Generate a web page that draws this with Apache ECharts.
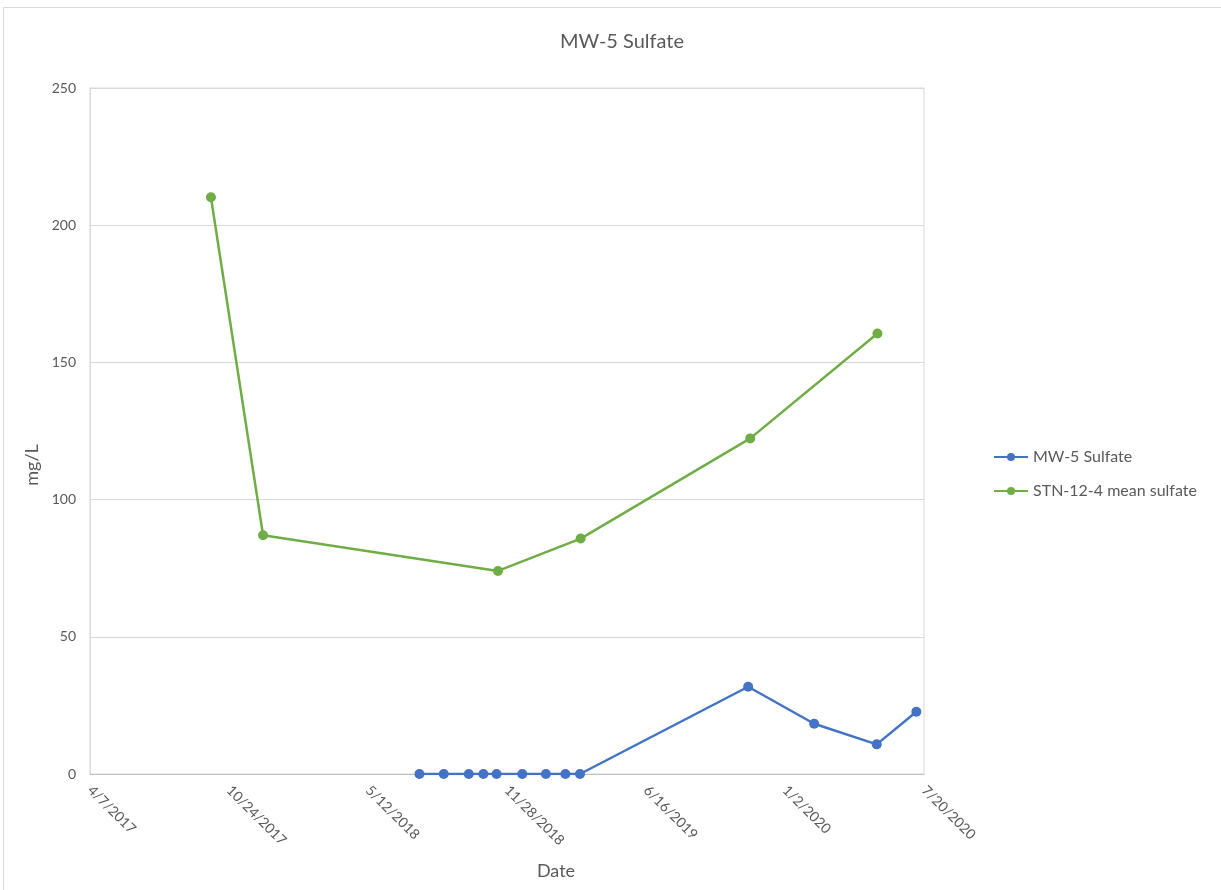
<!DOCTYPE html>
<html>
<head>
<meta charset="utf-8">
<title>MW-5 Sulfate</title>
<script src="https://cdn.jsdelivr.net/npm/echarts@6/dist/echarts.min.js"></script>
<style>
  html, body { margin: 0; padding: 0; background: #fff; }
  #chart { width: 1221px; height: 890px; }
</style>
</head>
<body>
<div id="chart"></div>
<script>
// x axis starts at this date, ticks every 200 days
const startDate = "2017-04-07";
const dayStep = 200;
const dayCount = 1200;

const mwDates = [
  "2018-07-25", "2018-08-29", "2018-10-04", "2018-10-25", "2018-11-13",
  "2018-12-20", "2019-01-23", "2019-02-20", "2019-03-13",
  "2019-11-10", "2020-02-13", "2020-05-13", "2020-07-09"
];
const mwValues = [0, 0, 0, 0, 0, 0, 0, 0, 0, 31.8, 18.3, 10.8, 22.7];

const stnDates = [
  "2017-09-28", "2017-12-12", "2018-11-15", "2019-03-14", "2019-11-13", "2020-05-14"
];
const stnValues = [210.2, 87, 74, 85.8, 122.3, 160.5];

const yTicks = [0, 50, 100, 150, 200, 250];

const DAY = 24 * 3600 * 1000;
const t0 = Date.parse(startDate + "T00:00:00Z");

function toDays(s) {
  return Math.round((Date.parse(s + "T00:00:00Z") - t0) / DAY);
}

function dayLabel(d) {
  const dt = new Date(t0 + d * DAY);
  return (dt.getUTCMonth() + 1) + "/" + dt.getUTCDate() + "/" + dt.getUTCFullYear();
}

function pairs(dates, values) {
  return dates.map((d, i) => [toDays(d), values[i]]);
}

const textColor = "#595959";
const fontFamily = "Lato, 'Noto Sans', sans-serif";

const chart = echarts.init(document.getElementById("chart"));
chart.setOption({
  animation: false,
  textStyle: { fontFamily: fontFamily },
  title: {
    text: "MW-5 Sulfate",
    left: 617,
    textAlign: "center",
    top: 27,
    textStyle: { color: textColor, fontSize: 20, fontWeight: "normal", fontFamily: fontFamily }
  },
  legend: {
    orient: "vertical",
    left: 988,
    top: 444,
    itemWidth: 34,
    itemHeight: 10,
    itemGap: 18,
    textStyle: { color: textColor, fontSize: 16, fontFamily: fontFamily },
    data: ["MW-5 Sulfate", "STN-12-4 mean sulfate"]
  },
  grid: {
    left: 90,
    right: 297,
    top: 88,
    bottom: 116,
    show: true,
    borderColor: "#d9d9d9",
    borderWidth: 1
  },
  graphic: [
    {
      type: "rect",
      shape: { x: 3.5, y: 7.5, width: 1400, height: 1000 },
      style: { fill: null, stroke: "#d9d9d9", lineWidth: 1 },
      silent: true
    }
  ],
  xAxis: {
    type: "value",
    min: 0,
    max: dayCount,
    interval: dayStep,
    name: "Date",
    nameLocation: "middle",
    nameGap: 88,
    nameTextStyle: { color: textColor, fontSize: 18, fontFamily: fontFamily, padding: [0, 0, 0, 98] },
    axisLine: { show: true, onZero: false, lineStyle: { color: "#bfbfbf", width: 1 } },
    axisTick: { show: false },
    splitLine: { show: false },
    axisLabel: {
      rotate: -45,
      margin: 14,
      color: textColor,
      fontSize: 14,
      fontFamily: fontFamily,
      formatter: v => dayLabel(v)
    }
  },
  yAxis: {
    type: "value",
    min: yTicks[0],
    max: yTicks[yTicks.length - 1],
    interval: yTicks[1] - yTicks[0],
    name: "mg/L",
    nameLocation: "middle",
    nameGap: 35,
    nameTextStyle: { color: textColor, fontSize: 18, fontFamily: fontFamily, padding: [0, 68, 0, 0] },
    axisLine: { show: true, lineStyle: { color: "#d9d9d9", width: 1 } },
    axisTick: { show: false },
    splitLine: { show: true, lineStyle: { color: "#d9d9d9", width: 1 } },
    axisLabel: { color: textColor, fontSize: 14, margin: 14, fontFamily: fontFamily }
  },
  series: [
    {
      name: "MW-5 Sulfate",
      type: "line",
      data: pairs(mwDates, mwValues),
      color: "#4472c4",
      symbol: "circle",
      symbolSize: 10,
      lineStyle: { width: 2.5 },
      z: 3
    },
    {
      name: "STN-12-4 mean sulfate",
      type: "line",
      data: pairs(stnDates, stnValues),
      color: "#70ad47",
      symbol: "circle",
      symbolSize: 10,
      lineStyle: { width: 2.5 },
      z: 3
    }
  ]
});
</script>
</body>
</html>
